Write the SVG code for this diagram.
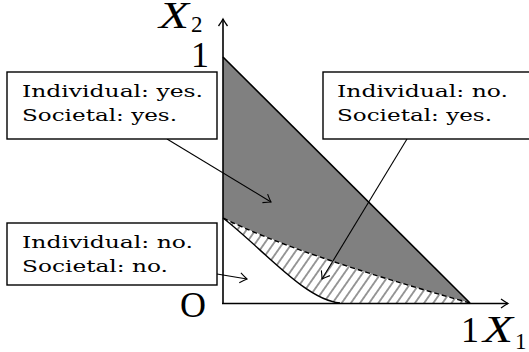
<svg xmlns="http://www.w3.org/2000/svg" width="529" height="352" viewBox="0 0 529 352">
<style>
.box{fill:#fff;stroke:#000;stroke-width:1.4}
.lbl{font-family:"DejaVu Serif","Liberation Serif",serif;font-size:16px;fill:#000}
.big{font-family:"Liberation Serif","Times New Roman",serif;font-size:36px;fill:#000}
.bx{font-family:"Liberation Serif","Times New Roman",serif;font-size:37px;font-style:italic;fill:#000}
.sub{font-family:"Liberation Serif","Times New Roman",serif;font-size:23px;fill:#000}
.axis{stroke:#000;stroke-width:1.6;fill:none}
.conn{stroke:#000;stroke-width:1.1;fill:none}
</style>
<defs>
<pattern id="hatch" patternUnits="userSpaceOnUse" width="7.5" height="7.5" patternTransform="rotate(35)">
<rect width="7.5" height="7.5" fill="#fff"/>
<line x1="3.75" y1="-1" x2="3.75" y2="8.5" stroke="#7a7a7a" stroke-width="1.5"/>
</pattern>
<marker id="ah" markerUnits="userSpaceOnUse" viewBox="-9 -6 11 12" refX="0" refY="0" markerWidth="11" markerHeight="12" orient="auto">
<path d="M-7,-5 Q-2.5,-1.5 0,0 Q-2.5,1.5 -7,5" fill="none" stroke="#000" stroke-width="1.1"/>
</marker>
<marker id="axh" markerUnits="userSpaceOnUse" viewBox="-9 -6 11 12" refX="0" refY="0" markerWidth="11" markerHeight="12" orient="auto">
<path d="M-7,-4.5 Q-2.5,-1.3 0,0 Q-2.5,1.3 -7,4.5" fill="none" stroke="#000" stroke-width="1.3"/>
</marker>
</defs>

<g id="regions">
<path id="gray-region" d="M223,57 L470,303 Q295,254 223,218 Z" fill="#808080"/>
<path id="hatched-region" d="M223,218 C262,248 305,300 340,303 L470,303 Q295,254 223,218 Z" fill="url(#hatch)"/>
<path d="M223,218 C262,248 305,300 340,303" fill="none" stroke="#000" stroke-width="1.4"/>
<path d="M470,303 Q295,254 223,218" fill="none" stroke="#000" stroke-width="1.4" stroke-dasharray="5 3"/>
<line x1="223" y1="57" x2="470" y2="303" stroke="#000" stroke-width="1.6"/>
</g>

<g id="axes">
<line class="axis" x1="223" y1="304" x2="223" y2="19" marker-end="url(#axh)"/>
<line class="axis" x1="222" y1="303.5" x2="508" y2="303.5" marker-end="url(#axh)"/>
<text class="bx" x="159" y="28" textLength="30" lengthAdjust="spacingAndGlyphs">X</text>
<text class="sub" x="191" y="32">2</text>
<text class="big" x="191" y="67">1</text>
<text class="big" x="180" y="317">O</text>
<text class="big" x="461" y="342">1</text>
<text class="bx" x="483" y="342" textLength="30" lengthAdjust="spacingAndGlyphs">X</text>
<text class="sub" x="515" y="349" font-size="20">1</text>
</g>

<g id="connectors">
<line class="conn" x1="167" y1="139" x2="271" y2="202" marker-end="url(#ah)"/>
<line class="conn" x1="407" y1="139" x2="322" y2="279" marker-end="url(#ah)"/>
<line class="conn" x1="217" y1="274" x2="247" y2="279" marker-end="url(#ah)"/>
</g>

<g id="node-yes-yes">
<rect class="box" x="7" y="72" width="210" height="67"/>
<text class="lbl" x="22" y="97" textLength="181" lengthAdjust="spacingAndGlyphs">Individual: yes.</text>
<text class="lbl" x="22" y="121" textLength="155" lengthAdjust="spacingAndGlyphs">Societal: yes.</text>
</g>

<g id="node-no-yes">
<rect class="box" x="323" y="72" width="210" height="67"/>
<text class="lbl" x="337" y="97" textLength="171" lengthAdjust="spacingAndGlyphs">Individual: no.</text>
<text class="lbl" x="337" y="121" textLength="155" lengthAdjust="spacingAndGlyphs">Societal: yes.</text>
</g>

<g id="node-no-no">
<rect class="box" x="7" y="223" width="210" height="62"/>
<text class="lbl" x="22" y="248" textLength="171" lengthAdjust="spacingAndGlyphs">Individual: no.</text>
<text class="lbl" x="22" y="272" textLength="146" lengthAdjust="spacingAndGlyphs">Societal: no.</text>
</g>
</svg>
